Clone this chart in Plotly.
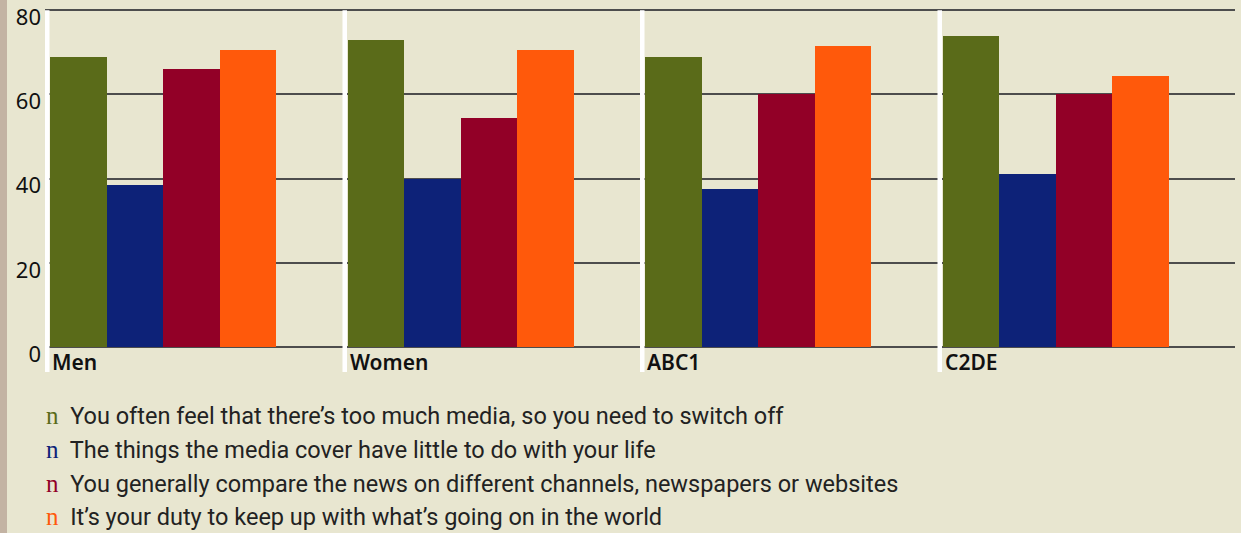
import plotly.graph_objects as go

categories = ["Men", "Women", "ABC1", "C2DE"]
series_names = [
    "You often feel that there’s too much media, so you need to switch off",
    "The things the media cover have little to do with your life",
    "You generally compare the news on different channels, newspapers or websites",
    "It’s your duty to keep up with what’s going on in the world",
]
too_much_media = [69, 73, 69, 74]
little_to_do = [38.5, 40, 37.5, 41]
compare_news = [66, 54.5, 60, 60]
duty_keep_up = [70.5, 70.5, 71.5, 64.5]
series_values = [too_much_media, little_to_do, compare_news, duty_keep_up]
colors = ["#5a6b19", "#0d2278", "#920027", "#ff590b"]
y_ticks = [0, 20, 40, 60, 80]

BG = "#e8e6d0"
W, H = 1241, 533
ML, MR, MT, MB = 45, 6, 9, 186
PW = W - ML - MR
PH = H - MT - MB

bar_w = 56.5 / PW * 4
first_off = 5 / PW * 4

fig = go.Figure()
xpos = list(range(len(categories)))
for k, (name, vals, col) in enumerate(zip(series_names, series_values, colors)):
    fig.add_trace(go.Bar(
        x=xpos, y=vals, name=name, marker=dict(color=col, line=dict(width=0)),
        width=bar_w, offset=first_off + k * bar_w, showlegend=False,
    ))

shapes = []
# left tan strip
shapes.append(dict(type="rect", xref="paper", yref="paper",
                   x0=-ML / PW, x1=(7 - ML) / PW, y0=-MB / PH - 0.01, y1=1 + MT / PH + 0.01,
                   fillcolor="#c3b3a3", line=dict(width=0), layer="below"))
# white separators (from the 80 line down below the axis)
top_paper = 80 / 80.3
for i in xpos:
    shapes.append(dict(type="rect", xref="x", yref="paper",
                       x0=i, x1=i + 4.5 / PW * 4, y0=-25 / PH, y1=top_paper,
                       fillcolor="white", line=dict(width=0), layer="above"))

annotations = []
for i, c in enumerate(categories):
    annotations.append(dict(x=i + 5 / PW * 4, y=-15 / PH, xref="x", yref="paper",
                            text=c, showarrow=False, xanchor="left", yanchor="middle",
                            font=dict(family="Noto Sans", size=21, color="#111", weight=600)))
legend_y = [416, 450, 484, 517]
for name, col, py in zip(series_names, colors, legend_y):
    annotations.append(dict(
        x=(44 - ML) / PW, y=-(py - MT - PH) / PH, xref="paper", yref="paper",
        text=f"<span style='color:{col};font-family:Liberation Serif;font-size:25px'>n</span>&nbsp; {name}",
        showarrow=False, xanchor="left", yanchor="middle",
        font=dict(family="Roboto", size=23.5, color="#222")))

fig.update_layout(
    width=W, height=H, margin=dict(l=ML, r=MR, t=MT, b=MB, autoexpand=False),
    paper_bgcolor=BG, plot_bgcolor=BG, barmode="overlay", bargap=0,
    shapes=shapes, annotations=annotations,
    xaxis=dict(range=[0, 4], showgrid=False, zeroline=False, showticklabels=False,
               showline=False, fixedrange=True, automargin=False),
    yaxis=dict(range=[0, 80.3], tickvals=y_ticks, ticktext=[str(v) for v in y_ticks],
               showgrid=True, gridcolor="#4d4d4d", gridwidth=1.5, automargin=False,
               zeroline=True, zerolinecolor="#4d4d4d", zerolinewidth=1.5,
               showline=False, ticks="", ticklabelshift=7, ticklabelstandoff=3,
               tickfont=dict(family="Noto Sans", size=22, color="#111")),
)

fig.write_html("out.html")
